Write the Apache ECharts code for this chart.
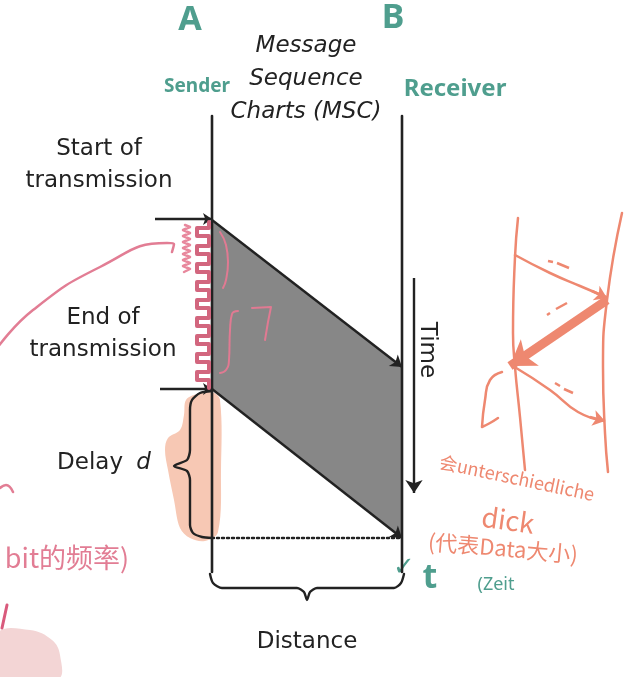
<!DOCTYPE html>
<html>
<head>
<meta charset="utf-8">
<script src="https://cdn.jsdelivr.net/npm/echarts@6/dist/echarts.min.js"></script>
<style>html,body{margin:0;padding:0;background:#fff}#msc_main{width:643px;height:677px}</style>
</head>
<body>
<div id="msc_main"></div>
<script>
// x = distance from sender A (B sits at 190), y = time since start of transmission
var lifelineA = [[0, -104], [0, 352]];
var lifelineB = [[190, -104], [190, 352]];
var signalArea = [[0, 0], [190, 147], [190, 318], [0, 169]];
var firstBit = [[0, 0], [190, 147]];
var lastBit = [[0, 169], [190, 318]];
var startMark = [[-57, -1], [0, -1]];
var endMark = [[-52, 169], [0, 169]];
var arrivalLine = [[0, 318], [190, 318]];
var timeArrow = [[202, 58], [202, 273]];
var delayBrace = [[0, 171], [-12, 173], [-20, 180], [-22, 190], [-22, 230], [-25, 240], [-38, 246],
  [-25, 251], [-22, 260], [-22, 305], [-19, 313], [-10, 317], [0, 318]];
var distanceBrace = [[-2, 354], [1, 363], [10, 368], [85, 368], [92, 372], [95, 380], [98, 372],
  [105, 368], [182, 368], [189, 363], [192, 354]];

// hand-written notes
var delayHighlight = [[-15, 174], [0, 172], [8, 180], [9, 250], [6, 312], [-7, 321], [-22, 318], [-32, 308],
  [-38, 280], [-44, 250], [-47, 230], [-44, 218], [-32, 210], [-28, 195], [-26, 180]];
var bitWave = [[-3, 2], [-3, 8], [-15, 8], [-15, 16], [-3, 16], [-3, 26], [-15, 26], [-15, 34], [-3, 34],
  [-3, 44], [-15, 44], [-15, 52], [-3, 52], [-3, 62], [-15, 62], [-15, 70], [-3, 70], [-3, 80], [-15, 80],
  [-15, 88], [-3, 88], [-3, 98], [-15, 98], [-15, 106], [-3, 106], [-3, 116], [-15, 116], [-15, 124],
  [-3, 124], [-3, 134], [-15, 134], [-15, 142], [-3, 142], [-3, 152], [-15, 152], [-15, 160], [-3, 160], [-3, 168]];
var denseWave = [[-27, 5], [-22, 7], [-29, 10], [-22, 13], [-29, 16], [-22, 19], [-29, 22], [-22, 25], [-29, 28],
  [-22, 31], [-29, 34], [-22, 37], [-29, 40], [-22, 43], [-29, 46], [-22, 49], [-28, 52]];
var pinkArc = [[-214, 127], [-179, 90], [-112, 47], [-45, 23], [-38, 24], [-40, 32]];
var pinkParen = [[8, 12], [14, 25], [16, 42], [14, 60], [11, 68]];
var pinkBracket = [[26, 91], [20, 94], [18, 110], [17, 140], [14, 150], [8, 153]];
var pinkSeven = [[40, 88], [59, 87], [56, 102], [53, 120]];
var pinkTilde = [[-212, 268], [-206, 265], [-199, 272]];
var pinkStroke = [[-205, 385], [-210, 408]];
var pinkBlob = [[-214, 413], [-182, 410], [-160, 420], [-152, 435], [-154, 459], [-214, 459]];

var orangeLeft = [[306, -2], [303, 37], [301, 113], [303, 147], [308, 197], [313, 250]];
var orangeRight = [[410, -7], [395, 80], [391, 147], [393, 213], [396, 252]];
var orangeUpper = [[303, 35], [338, 53], [368, 66], [394, 77]];
var orangeUpperTip = [[380, 71], [395, 78]];
var orangeThick = [[395, 80], [298, 146]];
var orangeLower = [[301, 146], [338, 170], [366, 192], [392, 201]];
var orangeLowerTip = [[378, 197], [393, 201]];
var orangeHook = [[290, 152], [278, 160], [273, 180], [270, 207], [278, 203], [286, 198]];
var orangeDashes = [
  [[336, 41], [341, 42]], [[345, 43], [357, 48]],
  [[335, 95], [338, 93]], [[344, 89], [355, 83]],
  [[343, 163], [348, 166]], [[352, 169], [361, 173]]
];

var blackLabels = [
  { name: 'Start of\ntransmission', value: [-113, -55] },
  { name: 'End of\ntransmission', value: [-109, 114] },
  { name: 'Distance', value: [95, 422] }
];
var titleLabel = [{ name: 'Message\nSequence\nCharts (MSC)', value: [94, -141] }];
var delayLabel = [{ name: 'Delay', value: [-108, 243] }];
var timeLabel = [{ name: 'Time', value: [215, 130] }];
var greenBig = [{ name: 'A', value: [-22, -200] }, { name: 'B', value: [181, -202] }, { name: 't', value: [218, 358] }];
var senderLabel = [{ name: 'Sender', value: [-15, -133] }];
var receiverLabel = [{ name: 'Receiver', value: [243, -131] }];
var zeitLabel = [{ name: '(Zeit', value: [284, 365] }];
var checkMark = [{ name: '✓', value: [192, 348] }];
var orangeNotes = [{ name: '会unterschiedliche', value: [305, 258] }];
var dickLabel = [{ name: 'dick', value: [296, 300] }];
var orangeNote2 = [{ name: '(代表Data大小)', value: [291, 328] }];
var pinkNote = [{ name: 'bit的频率)', value: [-145, 338] }];

var ink = '#222222';
var green = '#4f9e8e';
var orange = '#ee8870';
var pink = '#e27d94';

function stroke(points, color, width, smooth, dash) {
  return {
    type: 'line', data: points, symbol: 'none', smooth: smooth || false, silent: true, clip: false,
    lineStyle: { color: color, width: width, type: dash || 'solid', cap: 'round', join: 'round' }
  };
}
function arrow(lines, color, width, size) {
  return {
    type: 'lines', coordinateSystem: 'cartesian2d', silent: true,
    symbol: ['none', 'arrow'], symbolSize: size,
    lineStyle: { color: color, width: width, opacity: 1, curveness: 0 },
    data: lines.map(function (c) { return { coords: c }; })
  };
}
function area(points, color, smooth) {
  return {
    type: 'custom', coordinateSystem: 'cartesian2d', data: [[0, 0]], silent: true,
    renderItem: function (params, api) {
      return {
        type: 'polygon',
        shape: { points: points.map(function (p) { return api.coord(p); }), smooth: smooth || 0 },
        style: { fill: color }
      };
    }
  };
}
function texts(items, label) {
  label.show = true;
  label.position = 'inside';
  label.textBorderWidth = 0;
  label.opacity = 1;
  if (!label.formatter) label.formatter = '{b}';
  return {
    type: 'scatter', data: items, symbolSize: 0, silent: true,
    itemStyle: { color: '#ffffff', opacity: 1 }, label: label
  };
}

var mscChart = echarts.init(document.getElementById('msc_main'));
var option = {
  animation: false,
  grid: { left: 0, right: 0, top: 0, bottom: 0 },
  xAxis: { type: 'value', min: -212, max: 431, show: false },
  yAxis: { type: 'value', min: -220, max: 457, inverse: true, show: false },
  series: [
    area(pinkBlob, '#f3d5d5', 0.4),
    area(delayHighlight, '#f7c8b4', 0.35),
    area(signalArea, '#878787', 0),
    stroke(lifelineA, ink, 2.6),
    stroke(lifelineB, ink, 2.6),
    arrow([firstBit, lastBit], ink, 2.4, 11),
    arrow([startMark, endMark], ink, 2.4, 9),
    stroke(arrivalLine, ink, 2.4, false, [2, 3]),
    arrow([timeArrow], ink, 2.4, 13),
    stroke(delayBrace, ink, 2.4, 0.25),
    stroke(distanceBrace, ink, 2.4, 0.25),

    stroke(denseWave, '#e8889d', 2.5),
    stroke(bitWave, '#d2667e', 4),
    stroke(pinkArc, pink, 2.5, true),
    stroke(pinkParen, '#e07a92', 2, true),
    stroke(pinkBracket, '#e07a92', 2, true),
    stroke(pinkSeven, '#e07a92', 2),
    stroke(pinkTilde, pink, 2.5, true),
    stroke(pinkStroke, '#d95a7c', 3),

    stroke(orangeLeft, orange, 2.5, true),
    stroke(orangeRight, orange, 2.5, true),
    stroke(orangeHook, orange, 2.5, true),
    stroke(orangeUpper, orange, 2.5, true),
    stroke(orangeLower, orange, 2.5, true),
    arrow([orangeUpperTip, orangeLowerTip], orange, 2.5, 12),
    arrow([orangeThick], orange, 9, 24),
    {
      type: 'lines', coordinateSystem: 'cartesian2d', silent: true,
      lineStyle: { color: orange, width: 2.5, opacity: 1 },
      data: orangeDashes.map(function (c) { return { coords: c }; })
    },

    texts(blackLabels, { fontFamily: 'DejaVu Sans', fontSize: 23, color: ink, lineHeight: 32 }),
    texts(titleLabel, { fontFamily: 'DejaVu Sans', fontSize: 23, fontStyle: 'italic', color: ink, lineHeight: 33 }),
    texts(delayLabel, {
      formatter: 'Delay {i|d}', fontFamily: 'DejaVu Sans', fontSize: 23, color: ink,
      rich: { i: { fontFamily: 'DejaVu Sans', fontSize: 23, fontStyle: 'italic', color: ink, padding: [0, 0, 0, 6] } }
    }),
    texts(timeLabel, { fontFamily: 'DejaVu Sans', fontSize: 23, color: ink, rotate: -90 }),
    texts(greenBig, { fontFamily: 'Noto Sans', fontSize: 34, fontWeight: 'bold', color: green }),
    texts(senderLabel, { fontFamily: 'Noto Sans', fontSize: 19, fontWeight: 'bold', color: green }),
    texts(receiverLabel, { fontFamily: 'Noto Sans', fontSize: 24, fontWeight: 'bold', color: green }),
    texts(zeitLabel, { fontFamily: 'Noto Sans', fontSize: 18, color: green }),
    texts(checkMark, { fontFamily: 'DejaVu Sans', fontSize: 26, fontWeight: 'bold', color: green }),
    texts(orangeNotes, { fontFamily: 'Noto Sans CJK SC', fontSize: 18, color: orange, rotate: -12 }),
    texts(dickLabel, { fontFamily: 'Noto Sans CJK SC', fontSize: 27, color: orange, rotate: -8 }),
    texts(orangeNote2, { fontFamily: 'Noto Sans CJK SC', fontSize: 22, color: orange, rotate: -5 }),
    texts(pinkNote, { fontFamily: 'Noto Sans CJK SC', fontSize: 27, color: pink })
  ]
};
mscChart.setOption(option);
</script>
</body>
</html>
